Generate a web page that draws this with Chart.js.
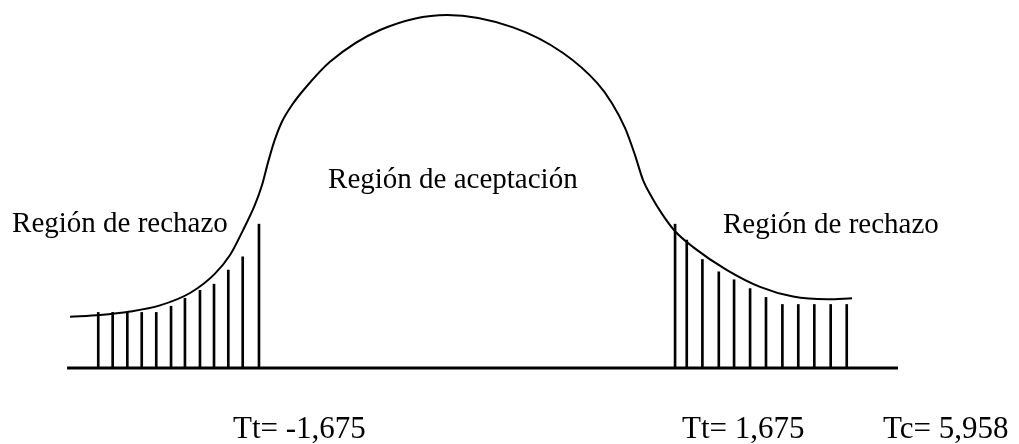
<!DOCTYPE html>
<html>
<head>
<meta charset="utf-8">
<script src="https://cdn.jsdelivr.net/npm/chart.js@4/dist/chart.umd.min.js"></script>
<style>
  html, body { margin: 0; padding: 0; background: #fff; }
  #wrap { width: 1019px; height: 444px; position: relative; }
</style>
</head>
<body>
<div id="wrap"><canvas id="chart"></canvas></div>
<script>
// valeurs (x en unités t, y en densité)
const curveT = [-3.196, -2.955, -2.713, -2.472, -2.230, -2.029, -1.908, -1.804, -1.707, -1.651, -1.602, -1.554, -1.490, -1.409, -1.304, -1.103, -0.700, -0.161, 0.370, 0.773, 1.047, 1.167, 1.272, 1.353, 1.417, 1.490, 1.578, 1.675, 1.820, 2.093, 2.359, 2.625, 2.899, 3.100];
const curveY = [0.058, 0.060, 0.064, 0.071, 0.085, 0.107, 0.128, 0.156, 0.185, 0.207, 0.233, 0.256, 0.279, 0.298, 0.317, 0.347, 0.383, 0.400, 0.386, 0.357, 0.323, 0.300, 0.272, 0.241, 0.213, 0.193, 0.173, 0.155, 0.137, 0.111, 0.092, 0.081, 0.078, 0.079];

const leftHatchT = [-2.969, -2.853, -2.735, -2.619, -2.502, -2.383, -2.271, -2.150, -2.037, -1.922, -1.806, -1.675];
const leftHatchY = [0.063, 0.063, 0.063, 0.063, 0.063, 0.070, 0.079, 0.088, 0.095, 0.111, 0.126, 0.163];
const rightHatchT = [1.675, 1.769, 1.895, 2.027, 2.150, 2.279, 2.407, 2.539, 2.667, 2.796, 2.928, 3.057];
const rightHatchY = [0.163, 0.145, 0.123, 0.109, 0.100, 0.090, 0.080, 0.072, 0.072, 0.072, 0.072, 0.072];

const axisT = [-3.22, 3.47];

const regionLabels = ['Región de rechazo', 'Región de aceptación', 'Región de rechazo'];
const bottomLabels = ['Tt= -1,675', 'Tt= 1,675', 'Tc= 5,958'];

const toPoints = (xs, ys) => xs.map((x, i) => ({ x: x, y: ys[i] }));

/**
 * Textes posés en coordonnées de données
 */
const textPlugin = {
  id: 'textes',
  afterDatasetsDraw(chart, args, opts) {
    const { ctx, scales: { x, y } } = chart;
    ctx.save();
    ctx.fillStyle = '#000';
    ctx.textBaseline = 'alphabetic';
    ctx.textAlign = 'left';
    opts.items.forEach(it => {
      ctx.font = it.size + 'px "Liberation Serif", "Times New Roman", serif';
      ctx.fillText(it.text, x.getPixelForValue(it.t), y.getPixelForValue(it.v));
    });
    ctx.restore();
  }
};

const lineStyle = {
  type: 'line',
  borderColor: '#000',
  pointRadius: 0,
  fill: false,
  clip: false
};

new Chart(document.getElementById('chart'), {
  type: 'line',
  data: {
    datasets: [
      Object.assign({}, lineStyle, {
        label: 'curva',
        data: toPoints(curveT, curveY),
        borderWidth: 2,
        cubicInterpolationMode: 'monotone'
      }),
      Object.assign({}, lineStyle, {
        label: 'eje',
        data: toPoints(axisT, [0, 0]),
        borderWidth: 3
      }),
      {
        type: 'bar',
        label: 'rechazo izq',
        data: toPoints(leftHatchT, leftHatchY),
        backgroundColor: '#000',
        barThickness: 2,
        grouped: false
      },
      {
        type: 'bar',
        label: 'rechazo der',
        data: toPoints(rightHatchT, rightHatchY),
        backgroundColor: '#000',
        barThickness: 2,
        grouped: false
      }
    ]
  },
  options: {
    responsive: true,
    maintainAspectRatio: false,
    animation: false,
    layout: { padding: 0 },
    plugins: {
      legend: { display: false },
      tooltip: { enabled: false },
      textes: {
        items: [
          { text: regionLabels[0], t: -3.663, v: 0.154, size: 29 },
          { text: regionLabels[1], t: -1.119, v: 0.204, size: 29 },
          { text: regionLabels[2], t: 2.061, v: 0.153, size: 29 },
          { text: bottomLabels[0], t: -1.884, v: -0.0793, size: 31 },
          { text: bottomLabels[1], t: 1.731, v: -0.0793, size: 31 },
          { text: bottomLabels[2], t: 3.349, v: -0.0793, size: 31 }
        ]
      }
    },
    scales: {
      x: { type: 'linear', min: -3.760, max: 4.444, offset: false, display: false },
      y: { type: 'linear', min: -0.0861, max: 0.4170, display: false }
    }
  },
  plugins: [textPlugin]
});
</script>
</body>
</html>
